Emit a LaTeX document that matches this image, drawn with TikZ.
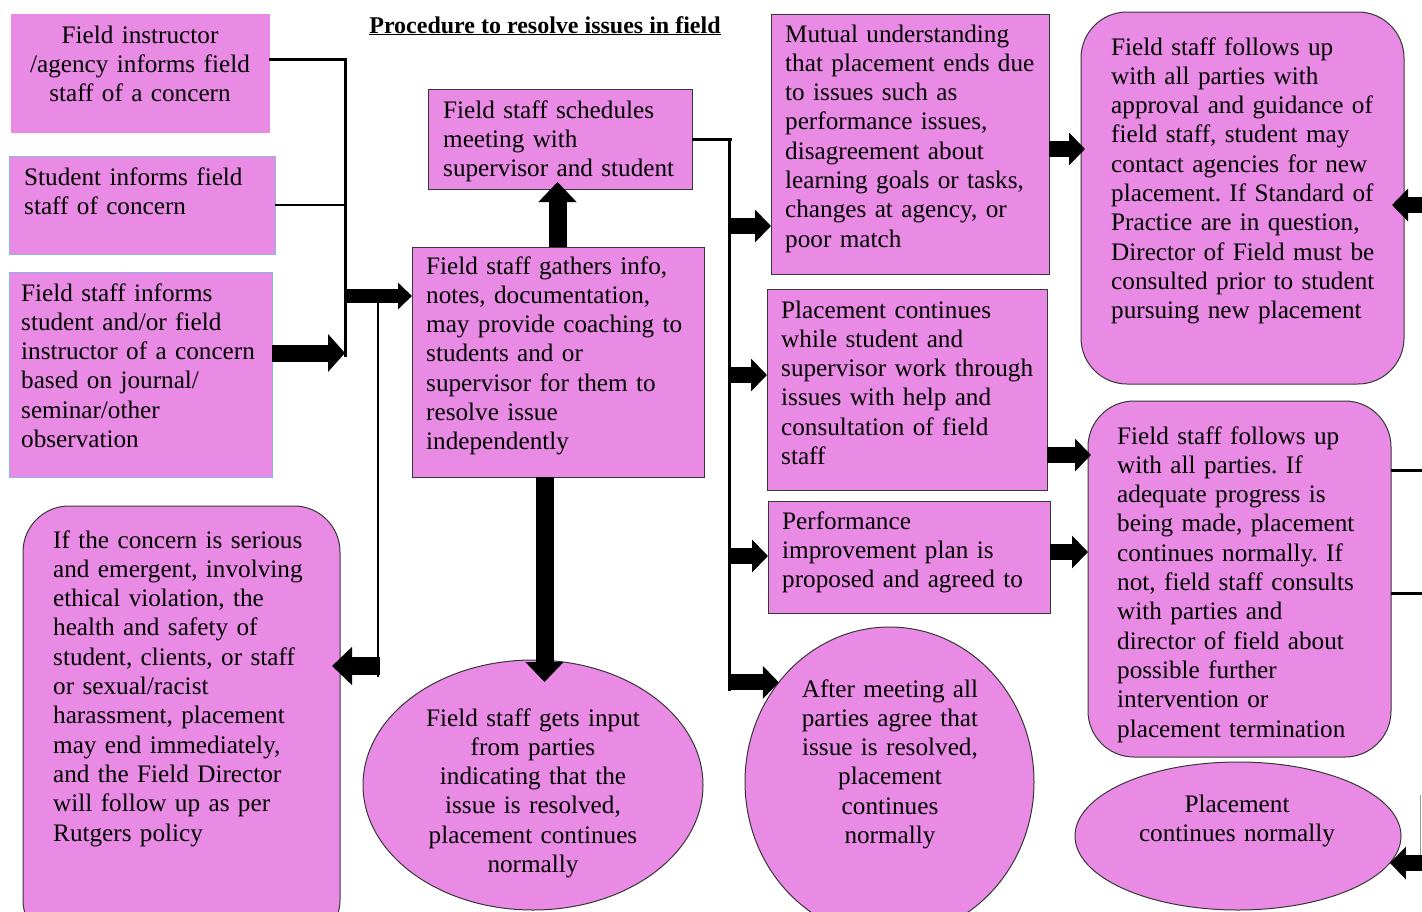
\documentclass[tikz,border=0pt]{standalone}
\usepackage{fontspec}
\setmainfont{Liberation Serif}
\usetikzlibrary{arrows.meta,shapes.geometric}
\definecolor{pinkfill}{RGB}{233,139,228}
\definecolor{blueedge}{RGB}{140,180,228}
\definecolor{darkedge}{RGB}{55,55,55}
\definecolor{greyline}{RGB}{150,150,150}
\tikzset{
  box/.style={draw=darkedge, line width=1pt, fill=pinkfill, rectangle, inner sep=0pt, outer sep=0pt, anchor=north west},
  bluebox/.style={box, draw=blueedge},
  plainbox/.style={box, draw=pinkfill},
  rbox/.style={box, rounded corners=46pt},
  oval/.style={draw=darkedge, line width=1pt, fill=pinkfill, ellipse, inner sep=0pt, outer sep=0pt},
  txtL/.style={font=\fontsize{25.2}{29.3}\selectfont, text width=330pt, align=left, inner sep=0pt, anchor=base west},
  txtC/.style={font=\fontsize{25.2}{29.3}\selectfont, text width=360pt, align=center, inner sep=0pt, anchor=base},
  conn/.style={line width=3pt},
  thinconn/.style={line width=2pt},
  barrow/.style={line width=18pt, -{Triangle[length=20pt,width=37pt]}},
  marrow/.style={line width=16pt, -{Triangle[length=16pt,width=32pt]}},
  sarrow/.style={line width=14pt, -{Triangle[length=14pt,width=26pt]}},
}
\frenchspacing
\begin{document}
\begin{tikzpicture}[x=1pt,y=-1pt]
\path[use as bounding box] (0,0) rectangle (1422,911);
\clip (0,0) rectangle (1422,911);
\fill[white] (0,0) rectangle (1422,911);

% title
\node[font=\fontsize{24}{28}\selectfont\bfseries, anchor=base, inner sep=0pt] (title) at (545,33) {\underline{Procedure to resolve issues in field}};

% left column
\node[plainbox, minimum width=258pt, minimum height=118pt] (A) at (11,14) {};
\node[txtC] (At) at (140,43) {Field instructor\\/agency informs field\\staff of a concern};

\node[bluebox, minimum width=266pt, minimum height=98pt] (B) at (9,156) {};
\node[txtL] (Bt) at (24,185) {Student informs field\\staff of concern};

\node[bluebox, minimum width=263pt, minimum height=205pt] (C) at (9,272) {};
\node[txtL] (Ct) at (21,301) {Field staff informs\\student and/or field\\instructor of a concern\\based on journal/\\seminar/other\\observation};

\node[rbox, minimum width=317pt, minimum height=440pt] (D) at (23,506) {};
\node[txtL] (Dt) at (53,548) {If the concern is serious\\and emergent, involving\\ethical violation, the\\health and safety of\\student, clients, or staff\\or sexual/racist\\harassment, placement\\may end immediately,\\and the Field Director\\will follow up as per\\Rutgers policy};

% middle column
\node[box, minimum width=264pt, minimum height=100pt] (E) at (428,89) {};
\node[txtL] (Et) at (443,118) {Field staff schedules\\meeting with\\supervisor and student};

\node[box, minimum width=292pt, minimum height=230pt] (F) at (412,247) {};
\node[txtL] (Ft) at (426,274) {Field staff gathers info,\\notes, documentation,\\may provide coaching to\\students and or\\supervisor for them to\\resolve issue\\independently};

\node[oval, minimum width=340pt, minimum height=250pt] (G) at (533,785) {};
\node[txtC] (Gt) at (533,726) {Field staff gets input\\from parties\\indicating that the\\issue is resolved,\\placement continues\\normally};

% outcomes column
\node[box, minimum width=278pt, minimum height=260pt] (H) at (771,14) {};
\node[txtL] (Ht) at (785,42) {Mutual understanding\\that placement ends due\\to issues such as\\performance issues,\\disagreement about\\learning goals or tasks,\\changes at agency, or\\poor match};

\node[box, minimum width=280pt, minimum height=201pt] (I) at (767,289) {};
\node[txtL] (It) at (781,318) {Placement continues\\while student and\\supervisor work through\\issues with help and\\consultation of field\\staff};

\node[box, minimum width=282pt, minimum height=112pt] (J) at (768,501) {};
\node[txtL] (Jt) at (782,529) {Performance\\improvement plan is\\proposed and agreed to};

\node[oval, minimum width=289pt, minimum height=310pt] (K) at (889.5,782) {};
\node[txtC] (Kt) at (890,697) {After meeting all\\parties agree that\\issue is resolved,\\placement\\continues\\normally};

% right column
\node[rbox, minimum width=323pt, minimum height=372pt] (L) at (1081,12) {};
\node[txtL] (Lt) at (1111,55) {Field staff follows up\\with all parties with\\approval and guidance of\\field staff, student may\\contact agencies for new\\placement. If Standard of\\Practice are in question,\\Director of Field must be\\consulted prior to student\\pursuing new placement};

\node[rbox, minimum width=303pt, minimum height=356pt] (M) at (1088,401) {};
\node[txtL] (Mt) at (1117,444) {Field staff follows up\\with all parties. If\\adequate progress is\\being made, placement\\continues normally. If\\not, field staff consults\\with parties and\\director of field about\\possible further\\intervention or\\placement termination};

\node[oval, minimum width=326pt, minimum height=148pt] (N) at (1238,836) {};
\node[txtC] (Nt) at (1237,812) {Placement\\continues normally};

% ---------- connectors ----------
\coordinate (jTop) at (345,59);
\coordinate (jBot) at (345,357);
\draw[conn] (A.east |- jTop) -- (jTop) -- (jBot);
\draw[thinconn] (B.east) -- (B.east -| jTop);
\coordinate (cY) at (0,353);
\draw[line width=17pt, -{Triangle[length=17pt,width=37pt]}] (C.east |- cY) -- (jBot |- cY);
\coordinate (fY) at (0,296);
\draw[sarrow] (jTop |- fY) -- (F.west |- fY);
\coordinate (dTop) at (378,296);
\coordinate (dBot) at (378,677);
\draw[thinconn] (dTop) -- (dBot);
\coordinate (dArr) at (380,666);
\draw[barrow, shorten >=-8pt] (dArr) -- (D.east |- dArr);

\coordinate (upX) at (557.5,0);
\draw[barrow, shorten >=-7pt] (F.north -| upX) -- (E.south -| upX);
\coordinate (dnX) at (544.5,0);
\draw[barrow, shorten >=-22pt] (F.south -| dnX) -- (G.north -| dnX);

\coordinate (eJ) at (729,139);
\coordinate (eBot) at (729,691);
\draw[conn] (E.east |- eJ) -- ([xshift=3pt]eJ);
\draw[conn] (eJ) -- (eBot);
\coordinate (hY) at (0,226);
\coordinate (iY) at (0,375);
\coordinate (jY) at (0,556);
\draw[marrow] (eJ |- hY) -- (H.west |- hY);
\draw[marrow] (eJ |- iY) -- (I.west |- iY);
\draw[marrow] (eJ |- jY) -- (J.west |- jY);
\draw[marrow] (eJ |- K.138.4) -- (K.138.4);

\coordinate (hl) at (0,149);
\coordinate (il) at (0,455);
\coordinate (jl) at (0,552);
\draw[marrow, shorten >=-4pt] (H.east |- hl) -- (L.west |- hl);
\draw[marrow, shorten >=-3pt] (I.east |- il) -- (M.west |- il);
\draw[marrow] (J.east |- jl) -- (M.west |- jl);

\coordinate (rL) at (1422,205);
\draw[marrow, shorten >=-12pt] (rL) -- (L.east |- rL);
\coordinate (r1) at (1422,470);
\coordinate (r2) at (1422,593);
\draw[conn] (M.east |- r1) -- (r1);
\draw[conn] (M.east |- r2) -- (r2);
\coordinate (rN) at (1422,863);
\coordinate (rV) at (1420.5,795);
\draw[greyline, line width=1.5pt] (rV) -- (rV |- rN);
\draw[marrow] (rN) -- (N.-10 |- rN);
\end{tikzpicture}
\end{document}
